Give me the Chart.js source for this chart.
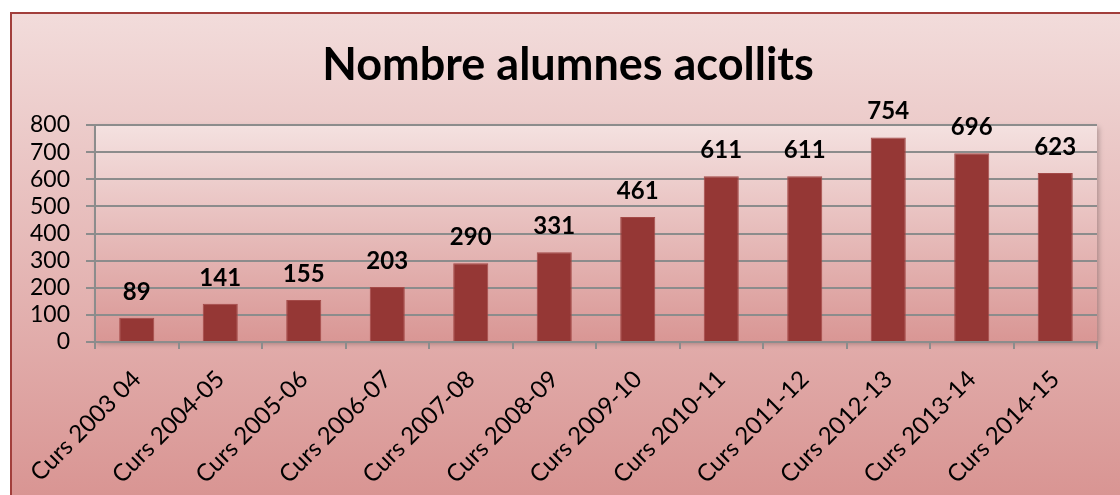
<!DOCTYPE html>
<html>
<head>
<meta charset="utf-8">
<script src="https://cdn.jsdelivr.net/npm/chart.js@4/dist/chart.umd.min.js"></script>
<style>
  html, body { margin: 0; padding: 0; background: #fff; }
  canvas { display: block; }
</style>
</head>
<body>
<canvas id="barCanvas" width="1120" height="495"></canvas>
<script>
// dades del gràfic
const categories = [
  "Curs 2003 04", "Curs 2004-05", "Curs 2005-06", "Curs 2006-07",
  "Curs 2007-08", "Curs 2008-09", "Curs 2009-10", "Curs 2010-11",
  "Curs 2011-12", "Curs 2012-13", "Curs 2013-14", "Curs 2014-15"
];
const alumnes = [89, 141, 155, 203, 290, 331, 461, 611, 611, 754, 696, 623];
const yMin = 0;
const yMax = 800;
const yStep = 100;

const chartTitle = "Nombre alumnes acollits";
const fontFamily = "Lato, 'Open Sans', sans-serif";

// fons, vora i àrea de dibuix amb degradat
const backgroundPlugin = {
  id: "fons",
  beforeDraw(chart) {
    const ctx = chart.ctx;
    const area = chart.chartArea;
    ctx.save();
    ctx.fillStyle = "#ffffff";
    ctx.fillRect(0, 0, chart.width, chart.height);

    const g = ctx.createLinearGradient(0, 12, 0, chart.height);
    g.addColorStop(0, "#f2dcdb");
    g.addColorStop(1, "#d99593");
    ctx.fillStyle = g;
    ctx.fillRect(11, 13, chart.width + 10, chart.height);
    ctx.strokeStyle = "#a23f3c";
    ctx.lineWidth = 2;
    ctx.strokeRect(11, 13, chart.width + 10, chart.height + 10);

    // àrea de dibuix amb ombra
    const g2 = ctx.createLinearGradient(0, area.top, 0, area.bottom);
    g2.addColorStop(0, "#f4e1e0");
    g2.addColorStop(1, "#d99694");
    ctx.shadowColor = "rgba(0,0,0,0.25)";
    ctx.shadowBlur = 5;
    ctx.shadowOffsetX = 2;
    ctx.shadowOffsetY = 2;
    ctx.fillStyle = g2;
    ctx.fillRect(area.left, area.top, area.right - area.left, area.bottom - area.top);
    ctx.restore();

    // títol
    ctx.save();
    ctx.fillStyle = "#000";
    ctx.font = "bold 45px " + fontFamily;
    ctx.textAlign = "center";
    ctx.textBaseline = "alphabetic";
    ctx.fillText(chartTitle, 568, 80);
    ctx.restore();
  }
};

// etiquetes de valor sobre les barres
const valueLabels = {
  id: "etiquetes",
  afterDatasetsDraw(chart) {
    const ctx = chart.ctx;
    const meta = chart.getDatasetMeta(0);
    ctx.save();
    ctx.fillStyle = "#000";
    ctx.font = "bold 24px " + fontFamily;
    ctx.textAlign = "center";
    ctx.textBaseline = "alphabetic";
    meta.data.forEach((bar, i) => {
      ctx.fillText(String(chart.data.datasets[0].data[i]), bar.x, bar.y - 18);
    });
    ctx.restore();
  }
};

const ctx = document.getElementById("barCanvas").getContext("2d");

window.myBarChart = new Chart(ctx, {
  type: "bar",
  data: {
    labels: categories,
    datasets: [{
      label: "Alumnes",
      data: alumnes,
      backgroundColor: "#953735",
      borderColor: "#a44a48",
      borderWidth: 1,
      barPercentage: 0.42,
      categoryPercentage: 1
    }]
  },
  options: {
    responsive: false,
    animation: false,
    layout: {
      padding: { top: 125, right: 23, bottom: 0, left: 0 }
    },
    plugins: {
      legend: { display: false },
      title: { display: false },
      tooltip: { enabled: false }
    },
    scales: {
      x: {
        offset: true,
        grid: {
          offset: true,
          drawOnChartArea: false,
          drawTicks: true,
          tickLength: 7,
          color: "#8c8c8c",
          lineWidth: 2
        },
        border: { color: "#8c8c8c", width: 2 },
        ticks: {
          autoSkip: false,
          maxRotation: 45,
          minRotation: 45,
          padding: 16,
          color: "#000",
          font: { family: fontFamily, size: 24 }
        },
        afterFit(scale) { scale.height = 153; }
      },
      y: {
        min: yMin,
        max: yMax,
        grid: {
          color: "#8c8c8c",
          lineWidth: 2,
          tickLength: 9
        },
        border: { color: "#8c8c8c", width: 2 },
        ticks: {
          stepSize: yStep,
          autoSkip: false,
          padding: 16,
          color: "#000",
          font: { family: fontFamily, size: 23 }
        },
        afterFit(scale) { scale.width = 95; }
      }
    }
  },
  plugins: [backgroundPlugin, valueLabels]
});
</script>
</body>
</html>
